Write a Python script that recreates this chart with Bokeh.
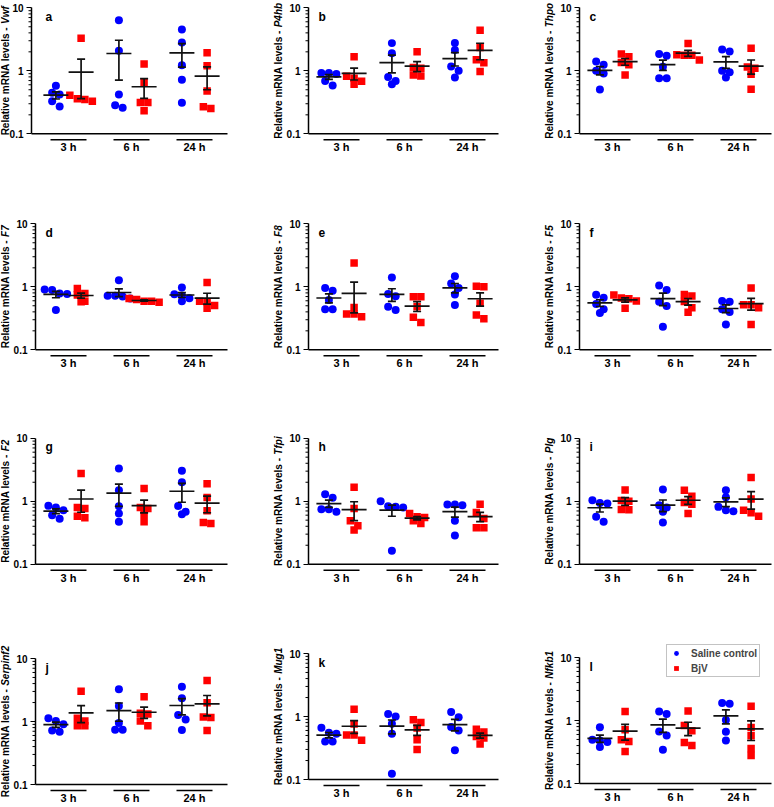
import numpy as np
from bokeh.plotting import figure
from bokeh.models import (FixedTicker, CustomJSTickFormatter, Label, Legend,
                          LegendItem, LogAxis)
from bokeh.layouts import column, row
from bokeh.embed import file_html
from bokeh.resources import INLINE
from bokeh.core.properties import value

# ---------------- data (relative mRNA levels, 5 mice per group) ----------------
times = ["3 h", "6 h", "24 h"]
genes = ["Vwf", "P4hb", "Thpo", "F7", "F8", "F5", "F2", "Tfpi", "Plg",
         "Serpinf2", "Mug1", "Nfkb1"]
letters = ["a", "b", "c", "d", "e", "f", "g", "h", "i", "j", "k", "l"]
series_names = ["Saline control", "BjV"]
y_major = [0.1, 1, 10]

# each list: [3 h values, 6 h values, 24 h values]
saline_vwf = [[0.58, 0.45, 0.42, 0.33, 0.27], [6.37, 2.08, 0.42, 0.26, 0.285], [4.53, 2.82, 1.23, 0.72, 0.31]]
bjv_vwf = [[3.3, 0.36, 0.33, 0.35, 0.41], [1.28, 0.65, 0.314, 0.314, 0.232], [1.93, 1.2, 0.48, 0.268, 0.252]]
saline_p4hb = [[0.92, 0.89, 0.92, 0.69, 0.585], [2.75, 1.9, 0.8, 0.61, 0.69], [2.75, 2.13, 1.17, 1.0, 0.78]]
bjv_p4hb = [[1.67, 0.76, 0.82, 0.68, 0.61], [2.0, 1.13, 1.1, 0.83, 0.86], [4.42, 2.35, 1.5, 1.34, 0.975]]
saline_thpo = [[1.25, 1.41, 1.0, 0.91, 0.505], [1.73, 1.84, 1.16, 0.76, 0.76], [2.18, 2.03, 1.0, 0.95, 0.78]]
bjv_thpo = [[1.67, 1.84, 1.36, 1.25, 0.86], [2.71, 1.77, 1.48, 1.77, 1.79], [2.29, 1.15, 1.1, 0.88, 0.51]]
saline_f7 = [[0.91, 0.785, 0.77, 0.89, 0.43], [1.27, 0.72, 0.65, 0.70, 0.72], [0.976, 0.72, 0.66, 0.76, 0.59]]
bjv_f7 = [[0.94, 0.74, 0.785, 0.58, 0.59], [0.65, 0.59, 0.57, 0.59, 0.63], [1.17, 0.59, 0.58, 0.507, 0.455]]
saline_f8 = [[0.865, 0.96, 0.616, 0.44, 0.44], [1.40, 0.766, 0.71, 0.484, 0.43], [1.47, 1.13, 0.953, 0.757, 0.514]]
bjv_f8 = [[2.39, 0.47, 0.37, 0.336, 0.37], [0.695, 0.695, 0.484, 0.328, 0.27], [1.0, 1.02, 0.546, 0.357, 0.31]]
saline_f5 = [[0.748, 0.67, 0.533, 0.439, 0.384], [1.05, 0.886, 0.58, 0.495, 0.233], [0.58, 0.594, 0.439, 0.398, 0.251]]
bjv_f5 = [[0.739, 0.662, 0.646, 0.594, 0.455], [0.757, 0.712, 0.466, 0.393, 0.587], [0.953, 0.52, 0.52, 0.466, 0.251]]
saline_f2 = [[0.794, 0.72, 0.60, 0.843, 0.525], [3.29, 1.49, 0.833, 0.638, 0.47], [3.05, 2.0, 0.84, 0.68, 0.62]]
bjv_f2 = [[2.74, 0.794, 0.765, 0.579, 0.545], [1.59, 0.794, 0.765, 0.623, 0.47], [1.9, 1.14, 0.703, 0.443, 0.46]]
saline_tfpi = [[1.29, 1.13, 0.747, 0.678, 0.747], [1.0, 0.794, 0.813, 0.833, 0.164], [0.886, 0.886, 0.864, 0.488, 0.286]]
bjv_tfpi = [[1.67, 0.765, 0.488, 0.407, 0.348], [0.638, 0.552, 0.565, 0.488, 0.443], [0.896, 0.662, 0.532, 0.379, 0.379]]
saline_plg = [[1.04, 0.94, 0.92, 0.565, 0.47], [1.53, 0.864, 0.794, 0.678, 0.46], [1.49, 1.16, 0.813, 0.694, 0.72]]
bjv_plg = [[1.5, 1.03, 1.0, 0.74, 0.73], [1.49, 1.2, 0.95, 0.896, 0.638], [2.37, 1.08, 0.72, 0.579, 0.654]]
saline_serpinf2 = [[1.02, 1.13, 0.908, 0.72, 0.687], [3.24, 1.77, 0.95, 0.739, 0.739], [3.57, 2.33, 1.27, 1.075, 0.73]]
bjv_serpinf2 = [[3.01, 1.13, 1.02, 0.854, 0.854], [2.48, 1.35, 1.31, 1.02, 0.854], [4.49, 1.99, 1.18, 1.16, 0.72]]
saline_mug1 = [[0.55, 0.53, 0.66, 0.40, 0.40], [1.10, 1.0, 0.766, 0.533, 0.123], [1.18, 0.97, 0.68, 0.6, 0.29]]
bjv_mug1 = [[1.3, 0.76, 0.51, 0.51, 0.42], [0.886, 0.804, 0.654, 0.428, 0.298], [0.63, 0.566, 0.483, 0.455, 0.366]]
saline_nfkb1 = [[0.784, 0.482, 0.454, 0.495, 0.378], [1.39, 1.27, 0.67, 0.58, 0.343], [1.9, 1.85, 1.02, 0.66, 0.48]]
bjv_nfkb1 = [[1.39, 0.712, 0.495, 0.465, 0.323], [1.41, 0.833, 0.686, 0.449, 0.402], [1.69, 0.775, 0.572, 0.36, 0.279]]

saline = [saline_vwf, saline_p4hb, saline_thpo, saline_f7, saline_f8, saline_f5,
          saline_f2, saline_tfpi, saline_plg, saline_serpinf2, saline_mug1, saline_nfkb1]
bjv = [bjv_vwf, bjv_p4hb, bjv_thpo, bjv_f7, bjv_f8, bjv_f5,
       bjv_f2, bjv_tfpi, bjv_plg, bjv_serpinf2, bjv_mug1, bjv_nfkb1]

# ---------------- layout / style ----------------
FONT = "Liberation Sans"
BLUE = "#0000ff"
RED = "#ff0000"
PX = 63.0        # pixels per x unit (one time group)
DEC = 63.0       # pixels per decade on the y axis
col_left = [0, 265, 525]
col_w = [265, 260, 249]
col_axis = [35, 308, 579]          # page x of the y axis in each column
col_end = [227, 498, 771]          # page x where the x axis line ends
axis_px = [31, 308, 579, 35, 308, 579, 35, 308, 579, 35, 308, 579]
row_top = [0, 210, 425, 640]
row_h = [210, 215, 215, 167]
top10 = [7.3, 7.3, 7.3, 223.3, 223.3, 223.3, 437.7, 437.7, 437.7, 658.0, 653.0, 657.0]
OFF_B, OFF_R = -0.2, 0.2

# approximate advance widths (em/1000) of bold italic sans, for label centering
CW = {"V": 667, "P": 667, "T": 611, "F": 611, "S": 667, "M": 833, "N": 722,
      "w": 778, "f": 333, "h": 611, "b": 611, "p": 611, "o": 611, "i": 278,
      "l": 278, "g": 611, "e": 556, "r": 389, "n": 611, "u": 611, "k": 556}


def text_w(s, size=10):
    return sum(CW.get(ch, 556) for ch in s) * size / 1000.0


def swarm(vals, center):
    order = sorted(range(len(vals)), key=lambda i: -vals[i])
    ypx = {i: -np.log10(vals[i]) * DEC for i in order}
    xs = [center] * len(vals)
    rows, cur = [], []
    for i in order:
        if cur and ypx[i] - ypx[cur[0]] > 6.5:
            rows.append(cur)
            cur = []
        cur.append(i)
    rows.append(cur)
    for r in rows:
        n = len(r)
        for k, i in enumerate(r):
            xs[i] = center + (k - (n - 1) / 2) * 7.5 / PX
    return xs


y_minor = [m * 0.1 for m in range(2, 10)] + [float(m) for m in range(2, 10)]


def panel(k):
    r, c = divmod(k, 3)
    w, h = col_w[c], row_h[r]
    # data x = 1 is the centre of the first time group (33 px right of the column axis)
    x_start = 1 - (col_axis[c] + 33 - col_left[c]) / PX
    x_end = x_start + w / PX
    XA = 1 + (axis_px[k] - col_axis[c] - 33) / PX
    XE = 1 + (col_end[c] - col_axis[c] - 33) / PX
    t = top10[k] - row_top[r]
    y_top = 10 * 10 ** (t / DEC)
    y_bot = 0.1 / 10 ** ((h - t - 2 * DEC) / DEC)
    p = figure(width=w, height=h, x_range=(x_start, x_end), y_range=(y_bot, y_top),
               y_axis_type="log", x_axis_location=None, y_axis_location=None,
               toolbar_location=None, output_backend="svg",
               min_border_left=0, min_border_right=0,
               min_border_top=0, min_border_bottom=0)
    p.outline_line_color = None
    p.grid.visible = False
    p.background_fill_color = "white"
    p.border_fill_color = "white"

    # y axis (major ticks + labels), drawn at the data x of the axis
    ax = LogAxis(fixed_location=XA, bounds=(0.1, 10),
                 ticker=FixedTicker(ticks=y_major),
                 formatter=CustomJSTickFormatter(code="return tick.toString()"))
    ax.axis_line_color = "black"
    ax.axis_line_width = 1.5
    ax.major_tick_out = 5
    ax.major_tick_in = 0
    ax.minor_tick_line_color = None
    ax.major_tick_line_width = 1.2
    ax.major_tick_line_color = "black"
    ax.major_label_text_font = FONT
    ax.major_label_text_font_style = "bold"
    ax.major_label_text_font_size = "10px"
    ax.major_label_text_color = "black"
    ax.major_label_standoff = 3
    p.add_layout(ax, "left")
    # minor ticks
    p.segment(x0=[XA - 3 / PX] * len(y_minor), y0=y_minor,
              x1=[XA] * len(y_minor), y1=y_minor, line_color="black", line_width=1)

    centers = [1.0, 2.0, 3.0]
    # x axis line and group bars/labels
    p.segment(x0=[XA], y0=[0.1], x1=[XE], y1=[0.1],
              line_color="black", line_width=1.5)
    y_bar = 0.1 / 10 ** (6 / DEC)
    y_lab = 0.1 / 10 ** (13.5 / DEC)
    hb = 18 / PX
    p.segment(x0=[cc - hb for cc in centers], y0=[y_bar] * 3,
              x1=[cc + hb for cc in centers], y1=[y_bar] * 3,
              line_color="black", line_width=1.4)
    p.text(x=centers, y=[y_lab] * 3, text=times, text_align="center",
           text_baseline="middle", text_font=value(FONT), text_font_style="bold",
           text_font_size="11px", text_color="black")

    renderers = []
    for data, off, color, marker, sz in ((saline[k], OFF_B, BLUE, "circle", 8),
                                         (bjv[k], OFF_R, RED, "square", 7.5)):
        xs, ys = [], []
        for g in range(3):
            xs += swarm(data[g], centers[g] + off)
            ys += list(data[g])
        rr = p.scatter(x=xs, y=ys, marker=marker, size=sz, fill_color=color,
                       line_color=None)
        renderers.append(rr)
    # mean +/- SEM
    x0, y0, x1, y1 = [], [], [], []
    for data, off in ((saline[k], OFF_B), (bjv[k], OFF_R)):
        for g in range(3):
            a = np.array(data[g], dtype=float)
            m = a.mean()
            s = a.std(ddof=1) / np.sqrt(len(a))
            cx = centers[g] + off
            hw, cap = 12.5 / PX, 4 / PX
            x0 += [cx - hw, cx, cx - cap, cx - cap]
            x1 += [cx + hw, cx, cx + cap, cx + cap]
            y0 += [m, m - s, m + s, m - s]
            y1 += [m, m + s, m + s, m - s]
    p.segment(x0=x0, y0=y0, x1=x1, y1=y1, line_color="#111111", line_width=1.7)

    # panel letter
    p.add_layout(Label(x=1 - 23 / PX, y=10 / 10 ** (9 / DEC), text=letters[k],
                       text_font=FONT, text_font_style="bold", text_font_size="12px",
                       text_align="left", text_baseline="middle", text_color="black"))
    # y axis label: regular part + italic gene name
    wa = 108.4
    gap = 3.0
    g_w = text_w(genes[k])
    up = (wa - gap - g_w) / 2.0
    xl = 1 - (33 + 30.5) / PX
    p.text(x=[xl], y=[10 ** (up / DEC)], text=["Relative mRNA levels -"],
           angle=np.pi / 2, text_align="right", text_baseline="middle",
           text_font=value(FONT), text_font_style="bold", text_font_size="10px",
           text_color="black")
    p.text(x=[xl], y=[10 ** ((up + gap) / DEC)], text=[genes[k]],
           angle=np.pi / 2, text_align="left", text_baseline="middle",
           text_font=value(FONT), text_font_style="bold italic",
           text_font_size="10px", text_color="black")

    if k == 11:
        leg = Legend(items=[LegendItem(label=series_names[0], renderers=[renderers[0]]),
                            LegendItem(label=series_names[1], renderers=[renderers[1]])],
                     location=(666 - col_left[c], 807 - 677))
        leg.label_text_font = FONT
        leg.label_text_font_style = "bold"
        leg.label_text_font_size = "10px"
        leg.glyph_width = 14
        leg.glyph_height = 12
        leg.label_height = 12
        leg.label_standoff = 8
        leg.padding = 2
        leg.spacing = 3
        leg.margin = 0
        leg.border_line_color = "#888888"
        leg.border_line_width = 1
        leg.background_fill_alpha = 1
        p.add_layout(leg)
    return p


figs = [panel(k) for k in range(12)]
layout = column(*[row(*figs[3 * r:3 * r + 3], spacing=0) for r in range(4)], spacing=0)
open("out.html", "w").write(file_html(layout, INLINE))
